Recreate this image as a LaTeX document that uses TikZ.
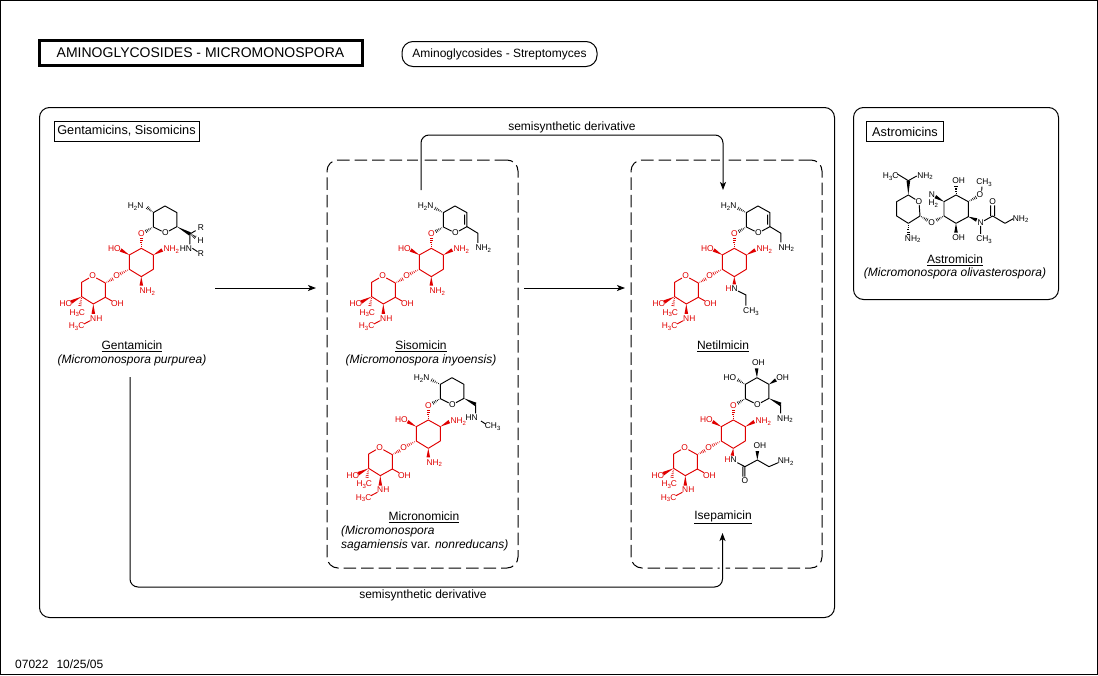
\documentclass[tikz,border=0pt]{standalone}
\usepackage{fontspec}
\setmainfont{Liberation Sans}
\usetikzlibrary{calc,arrows.meta}
\definecolor{molred}{HTML}{E00000}
\newcommand\sbt[1]{\raisebox{-1.7pt}{\fontsize{6}{6}\selectfont #1}}
\newcommand\atm[3]{\node[atom] (#1) at (#2) {#3};}
\newcommand\crd[2]{\foreach \n/\p in {#2} {\coordinate (\n) at (\p);}}
\newcommand\wdg[2]{\fill ($(#1)$) -- ($(#2)!1.8pt!90:(#1)$) -- ($(#2)!1.8pt!-90:(#1)$) -- cycle;}
\newcommand\hsh[2]{\foreach \t/\w in {.2/.5pt,.4/.8pt,.6/1.1pt,.8/1.4pt,1/1.7pt} {\coordinate (hp) at ($(#1)!\t!(#2)$);\draw[hashbar] ($(hp)!\w!90:(#1)$) -- ($(hp)!\w!-90:(#1)$);}}
% red aminoglycoside core, origin at the ring carbon under the bridging O
\newcommand\redcore{%
 \begin{scope}[color=molred]
 \crd{}{a0/{0,0},a1/{-36,20},a2/{36,20},a3/{36,63},a4/{0,85},a5/{-36,63},s1/{-108,104},s2/{-108,147},s3/{-144,167},s4/{-179,145},s5/{-179,102},tipa/{-62,5},tipb/{63,5},tipo/{0,-30},hb1/{-62,76},hb2/{-86,92},tiph/{-210,161},tipm/{-184,172},tipn/{-144,197},nb1/{-153,217},nb2/{-172,227},sb/{-88,158}}
 \draw[bond] (a0)--(a1)--(a5)--(a4)--(a3)--(a2)--cycle;
 \atm{o1}{0,-43}{O}
 \atm{o2}{-74,83}{O}
 \atm{o3}{-146,83}{O}
 \draw[bond] (o3)--(s1)--(s2)--(s3)--(s4)--(s5)--(o3);
 \wdg{a1}{tipa}\wdg{a2}{tipb}\hsh{a0}{tipo}\hsh{a5}{hb1}\hsh{s1}{hb2}
 \atm{hoa}{-81,0}{HO}
 \atm{nhb}{90,2}{NH\sbt{2}}
 \wdg{s4}{tiph}\hsh{s4}{tipm}\wdg{s3}{tipn}
 \draw[bond] (s2)--(sb);
 \atm{hoc}{-226,167}{HO}
 \atm{hcd}{-192,192}{H\sbt{3}C}
 \atm{nhe}{-135,210}{NH}
 \atm{hcf}{-194,232}{H\sbt{3}C}
 \atm{ohg}{-72,167}{OH}
 \draw[bond] (nb1)--(nb2);
 \end{scope}}
\newcommand\rednh{\begin{scope}[color=molred]\coordinate (tipd) at (0,112);\wdg{a4}{tipd}\atm{nhd}{18,127}{NH\sbt{2}}\end{scope}}
% upper sugar ring
\newcommand\topring{%
 \crd{}{t1/{36,-64},t2/{36,-107},t3/{71,-127},t4/{107,-107},t5/{107,-65},hb3/{14,-51}}
 \atm{to}{72,-46}{O}
 \draw[bond] (t1)--(t2)--(t3)--(t4)--(t5)--(to)--(t1);
 \hsh{t1}{hb3}}
\tikzset{
 bond/.style={line width=.95pt,line join=round},
 hashbar/.style={line width=.6pt},
 atom/.style={font=\fontsize{8.4}{9}\selectfont,inner sep=.2pt,text depth=0pt},
 panel/.style={draw,line width=1pt,rounded corners=10pt,inner sep=0pt},
 dashpanel/.style={draw,line width=1pt,rounded corners=11pt,inner sep=0pt,dash pattern=on 12.5pt off 5pt},
 tagbox/.style={draw,line width=1pt,inner sep=0pt,font=\fontsize{12.7}{14}\selectfont},
 txt/.style={font=\fontsize{12}{14}\selectfont,inner sep=0pt},
 link/.style={line width=1pt,-{Stealth[length=8pt,width=6pt,inset=2pt]}},
 halo/.style={preaction={draw=white,line width=6pt,-}},
}
\begin{document}
\begin{tikzpicture}[x=1pt,y=-1pt]
\useasboundingbox (0,0) rectangle (1098,675);
\node[draw,line width=1pt,inner sep=0pt,minimum width=1097pt,minimum height=674pt] (frame) at (549,337.5) {};
\node[draw,line width=3pt,inner sep=0pt,minimum width=323pt,minimum height=25pt,font=\fontsize{14}{15}\selectfont] (title) at (200.5,52.5) {AMINOGLYCOSIDES - MICROMONOSPORA};
\node[draw,line width=1pt,rounded corners=11pt,inner sep=0pt,minimum width=195pt,minimum height=25pt,font=\fontsize{12}{14}\selectfont] (strep) at (499.5,54) {Aminoglycosides - Streptomyces};
\node[panel,minimum width=795pt,minimum height=510pt] (pmain) at (437,362.5) {};
\node[panel,minimum width=205pt,minimum height=192pt] (pastro) at (956,203.5) {};
\node[tagbox,minimum width=145pt,minimum height=20pt] (tgen) at (126.5,131) {Gentamicins, Sisomicins};
\node[tagbox,minimum width=77pt,minimum height=20pt] (tast) at (905,131.5) {Astromicins};
\node[dashpanel,minimum width=191pt,minimum height=408pt] (dsis) at (422.5,364) {};
\node[dashpanel,minimum width=191pt,minimum height=408pt] (dnet) at (726.5,364) {};
% connectors
\coordinate (topS) at (421,190);\coordinate (topM) at (572,135);\coordinate (topE) at (723,190);
\draw[link,halo,rounded corners=8pt] (topS) |- (topM) -| (topE);
\coordinate (botS) at (130,377);\coordinate (botM) at (423,587);\coordinate (botE) at (722.5,533);
\draw[link,halo,rounded corners=8pt] (botS) |- (botM) -| (botE);
\coordinate (a1S) at (215,288);\coordinate (a1E) at (316,288);
\coordinate (a2S) at (524,288);\coordinate (a2E) at (625,288);
\draw[link] (a1S) -- (a1E);
\draw[link] (a2S) -- (a2E);
\node[txt] (lbtop) at (572,127) {semisynthetic derivative};
\node[txt] (lbbot) at (423,595.5) {semisynthetic derivative};
\node[txt] (ngen) at (132,346) {\underline{Gentamicin}};
\node[txt] (sgen) at (132,360) {\itshape (Micromonospora purpurea)};
\node[txt] (nsis) at (421,346) {\underline{Sisomicin}};
\node[txt] (ssis) at (421,360) {\itshape (Micromonospora inyoensis)};
\node[txt] (nnet) at (723,346) {\underline{Netilmicin}};
\node[txt] (nmic) at (424,517) {\underline{Micronomicin}};
\node[txt,anchor=west] (smic1) at (341,531) {\itshape (Micromonospora};
\node[txt,anchor=west] (smic2) at (341,545) {\itshape sagamiensis \upshape var. \itshape nonreducans)};
\node[txt] (nise) at (723,517) {\underline{Isepamicin}};
\node[txt] (nast) at (955,260) {\underline{Astromicin}};
\node[txt] (sast) at (955,273.5) {\itshape (Micromonospora olivasterospora)};
\node[txt,anchor=west] (stamp) at (15,664) {07022\hspace{8pt}10/25/05};
% Gentamicin
\begin{scope}[shift={(141.3,248.3)},x=.3333pt,y=-.3333pt,name prefix=gen-]
 \redcore\rednh\topring
 \crd{}{g1/{146,-43},g2/{163,-53},g3/{162,-33},g4/{146,-12},tiphn/{18,-122}}
 \hsh{t2}{tiphn}\wdg{t5}{g1}\hsh{g1}{g3}
 \draw[bond] (g1)--(g2) (g1)--(g4);
 \atm{nh}{-17,-127}{H\sbt{2}N}
 \atm{r1}{179,-63}{R}\atm{hh}{178,-23}{H}\atm{hn}{134,0}{HN}\atm{r2}{179,17}{R}
 \draw[bond] (hn.east)--(r2);
\end{scope}
% Sisomicin
\begin{scope}[shift={(431.3,248.3)},x=.3333pt,y=-.3333pt,name prefix=sis-]
 \redcore\rednh\topring
 \crd{}{g1/{140,-45},g2/{140,-16},tiphn/{12,-120},d1/{100,-101},d2/{100,-71}}
 \hsh{t2}{tiphn}
 \draw[bond] (d1)--(d2) (t5)--(g1)--(g2);
 \atm{nh}{-17,-127}{H\sbt{2}N}\atm{nb}{156,-2}{NH\sbt{2}}
\end{scope}
% Netilmicin
\begin{scope}[shift={(734.3,248.3)},x=.3333pt,y=-.3333pt,name prefix=net-]
 \redcore\topring
 \crd{}{g1/{140,-45},g2/{140,-18},tiphn/{12,-120},d1/{100,-101},d2/{100,-71},b1/{0,108},b2/{35,140},b3/{35,172},b0/{11,128}}
 \hsh{t2}{tiphn}
 \draw[bond] (d1)--(d2) (t5)--(g1)--(g2) (b0)--(b2)--(b3);
 \begin{scope}[color=molred]\wdg{a4}{b1}\end{scope}
 \atm{nh}{-17,-127}{H\sbt{2}N}\atm{nb}{156,-3}{NH\sbt{2}}
 \node[atom] (hn) at (-8,122) {\textcolor{molred}{H}N};
 \atm{ch}{50,188}{CH\sbt{3}}
\end{scope}
% Micronomicin
\begin{scope}[shift={(428.3,420)},x=.3333pt,y=-.3333pt,name prefix=mic-]
 \redcore\rednh\topring
 \crd{}{g1/{142,-47},g2/{142,-20},tiphn/{10,-120},b1/{158,3},b2/{172,12}}
 \hsh{t2}{tiphn}\wdg{t5}{g1}
 \draw[bond] (g1)--(g2) (b1)--(b2);
 \atm{nh}{-20,-127}{H\sbt{2}N}\atm{hn}{130,-7}{HN}\atm{ch}{193,17}{CH\sbt{3}}
\end{scope}
% Isepamicin
\begin{scope}[shift={(733.3,420)},x=.3333pt,y=-.3333pt,name prefix=ise-]
 \redcore\topring
 \crd{}{g1/{142,-47},g2/{142,-20},tiphn/{14,-120},tipr/{128,-120},tipu/{70,-155},b1/{-3,107},b0/{12,128},b2/{35,140},b3/{72,120},b4/{107,140},b5/{135,128},tipw/{72,93},c1/{35,170},c2/{29,140},c3/{29,170}}
 \hsh{t2}{tiphn}\wdg{t4}{tipr}\wdg{t3}{tipu}\wdg{t5}{g1}
 \draw[bond] (g1)--(g2) (b0)--(b2)--(b3)--(b4)--(b5) (b2)--(c1) (c2)--(c3);
 \begin{scope}[color=molred]\wdg{a4}{b1}\end{scope}
 \wdg{b3}{tipw}
 \atm{ho}{-10,-128}{HO}\atm{oh}{148,-128}{OH}\atm{ou}{75,-172}{OH}
 \atm{nb}{155,-5}{NH\sbt{2}}
 \node[atom] (hn) at (-8,120) {\textcolor{molred}{H}N};
 \atm{oc}{35,183}{O}\atm{ow}{80,78}{OH}\atm{nc}{157,123}{NH\sbt{2}}
\end{scope}
% Astromicin
\begin{scope}[shift={(870,160)},x=.3333pt,y=-.3333pt,name prefix=ast-]
 \crd{}{l1/{115,105},l2/{80,125},l3/{80,168},l4/{115,190},l5/{150,168},r1/{222,168},r2/{222,125},r3/{258,105},r4/{295,125},r5/{295,170},r6/{258,190},u1/{115,62},u2/{82,42},u3/{140,48},u4/{115,222},h1/{172,180},h2/{200,180},w1/{196,110},w2/{258,78},w3/{318,112},w4/{320,180},w5/{258,218},n1/{332,205},n2/{332,222},c1/{368,168},c2/{405,190},c3/{430,176},d1/{362,168},d2/{362,136},d3/{374,168},d4/{374,136},o1/{335,92},o2/{336,80}}
 \atm{lo}{147,125}{O}\atm{bo}{185,188}{O}\atm{no}{332,188}{N}
 \draw[bond] (lo)--(l1)--(l2)--(l3)--(l4)--(l5)--(lo) (r1)--(r2)--(r3)--(r4)--(r5)--(r6)--cycle;
 \draw[bond] (u1)--(u2) (u1)--(u3) (no)--(n2) (no)--(c1)--(c2)--(c3) (d1)--(d2) (d3)--(d4) (o1)--(o2);
 \wdg{l1}{u1}\hsh{l4}{u4}\hsh{l5}{h1}\hsh{r1}{h2}\wdg{r2}{w1}\hsh{r3}{w2}\hsh{r4}{w3}\wdg{r5}{w4}\wdg{r6}{w5}
 \atm{hc}{62,48}{H\sbt{3}C}\atm{nh}{165,46}{NH\sbt{2}}\atm{na}{128,235}{NH\sbt{2}}
 \atm{nx}{186,103}{N}\atm{hx}{190,128}{H\sbt{2}}\atm{oh}{266,62}{OH}\atm{co}{330,105}{O}\atm{ch}{342,66}{CH\sbt{3}}
 \atm{ohb}{266,232}{OH}\atm{chb}{342,236}{CH\sbt{3}}\atm{oc}{368,125}{O}\atm{ne}{452,175}{NH\sbt{2}}
\end{scope}
\end{tikzpicture}
\end{document}
